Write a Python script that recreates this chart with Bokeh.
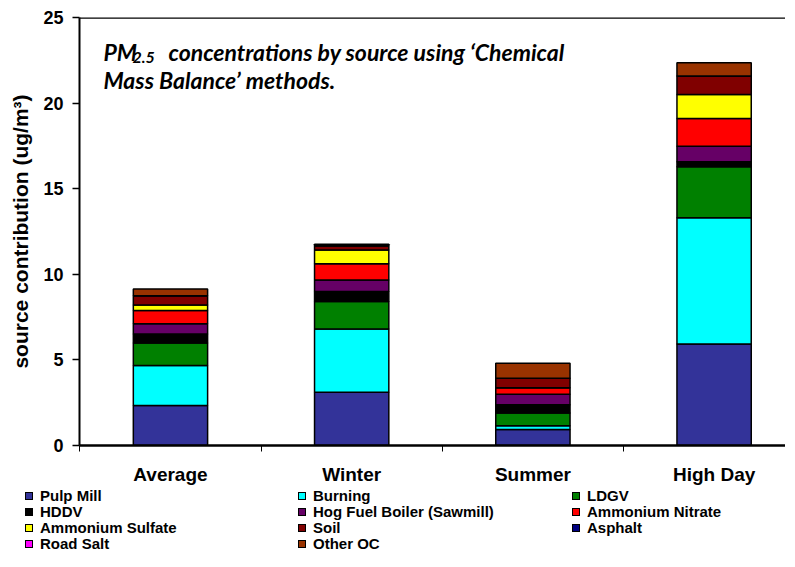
from bokeh.plotting import figure
from bokeh.layouts import column
from bokeh.models import ColumnDataSource, Range1d, FixedTicker, Label, Span, Div
from bokeh.embed import file_html
from bokeh.resources import INLINE

# ---- data ----
categories = ["Average", "Winter", "Summer", "High Day"]
pulp_mill = [2.33, 3.11, 0.93, 5.93]
burning = [2.35, 3.69, 0.23, 7.37]
ldgv = [1.30, 1.61, 0.74, 2.98]
hddv = [0.53, 0.58, 0.48, 0.29]
hog_fuel = [0.60, 0.68, 0.62, 0.91]
amm_nitrate = [0.77, 0.95, 0.38, 1.62]
amm_sulfate = [0.33, 0.80, 0.00, 1.40]
soil = [0.54, 0.25, 0.55, 1.08]
asphalt = [0.0, 0.0, 0.0, 0.0]
road_salt = [0.0, 0.0, 0.0, 0.0]
other_oc = [0.39, 0.08, 0.87, 0.78]

series_names = ["Pulp Mill", "Burning", "LDGV", "HDDV", "Hog Fuel Boiler (Sawmill)",
                "Ammonium Nitrate", "Ammonium Sulfate", "Soil", "Asphalt", "Road Salt", "Other OC"]
series_values = [pulp_mill, burning, ldgv, hddv, hog_fuel, amm_nitrate, amm_sulfate,
                 soil, asphalt, road_salt, other_oc]
series_colors = ["#333399", "#00FFFF", "#008000", "#000000", "#660066", "#FF0000",
                 "#FFFF00", "#800000", "#000080", "#FF00FF", "#993300"]
y_ticks = [0, 5, 10, 15, 20, 25]
y_label = "source contribution (ug/m\u00b3)"

# ---- source ----
keys = ["s%d" % i for i in range(len(series_names))]
data = {"x": list(range(len(categories)))}
for k, vals in zip(keys, series_values):
    data[k] = vals
source = ColumnDataSource(data)

p = figure(width=785, height=487, x_range=Range1d(-0.502, 3.394), y_range=Range1d(0, 25),
           output_backend="svg", toolbar_location=None,
           min_border_left=79, min_border_right=0, min_border_top=17, min_border_bottom=40)
p.outline_line_color = None
p.xgrid.visible = False
p.ygrid.visible = False

renderers = p.vbar_stack(keys, x="x", width=0.41, source=source,
                         fill_color=series_colors, line_color="black", line_width=1.5)

# top border line
p.add_layout(Span(location=25, dimension="width", line_color="black", line_width=2.5))

# x axis
xa = p.xaxis[0]
xa.ticker = FixedTicker(ticks=list(range(len(categories))), minor_ticks=[-0.5, 0.5, 1.5, 2.5, 3.5])
xa.major_label_overrides = {i: c for i, c in enumerate(categories)}
xa.axis_line_width = 2.5
xa.axis_line_color = "black"
xa.major_tick_out = 0
xa.major_tick_in = 0
xa.minor_tick_out = 6
xa.minor_tick_in = 0
xa.minor_tick_line_color = "black"
xa.major_label_text_font = "Liberation Sans"
xa.major_label_text_font_style = "bold"
xa.major_label_text_font_size = "19px"
xa.major_label_text_color = "black"
xa.major_label_standoff = 12

# y axis
ya = p.yaxis[0]
ya.ticker = FixedTicker(ticks=y_ticks, minor_ticks=[])
ya.axis_line_width = 2
ya.axis_line_color = "black"
ya.major_tick_out = 7
ya.major_tick_in = 0
ya.major_tick_line_color = "black"
ya.major_tick_line_width = 1.5
ya.major_label_text_font = "Liberation Sans"
ya.major_label_text_font_style = "bold"
ya.major_label_text_font_size = "18px"
ya.major_label_text_color = "black"
ya.major_label_standoff = 9
ya.axis_label = y_label
ya.axis_label_text_font = "Liberation Sans"
ya.axis_label_text_font_style = "bold"
ya.axis_label_text_font_size = "21px"
ya.axis_label_text_color = "black"
ya.axis_label_standoff = 8

# title text inside the plot
title_font = "Lato"
def title_label(x, y, text, size):
    return Label(x=x, y=y, x_units="screen", y_units="screen", text=text,
                 text_font=title_font, text_font_style="bold italic", text_color="black",
                 text_font_size=size, text_baseline="alphabetic")

p.add_layout(title_label(24, 394, "PM", "23px"))
p.add_layout(title_label(53, 388, "2.5", "16px"))
p.add_layout(title_label(89, 394, "concentrations by source using \u2018Chemical", "23px"))
p.add_layout(title_label(24, 366, "Mass Balance\u2019 methods.", "23px"))

# ---- legend strip below the chart (3 columns, read across rows) ----
cells = []
for name, color in zip(series_names, series_colors):
    cells.append(
        '<div style="display:flex;align-items:center;height:16px;white-space:nowrap;">'
        '<span style="display:inline-block;width:8px;height:8px;border:1px solid #000;'
        'background:%s;margin-right:7px;flex:none;"></span>%s</div>' % (color, name)
    )
legend_html = (
    '<div style="display:grid;grid-template-columns:273px 274px 200px;'
    'grid-auto-rows:16px;padding:1px 0 0 25px;margin:0;'
    'font-family:\'Liberation Sans\',Arial,sans-serif;font-weight:bold;font-size:15px;'
    'line-height:16px;color:#000;">' + "".join(cells) + '</div>'
)
legend_div = Div(text=legend_html, width=785, height=64, margin=0)

open("out.html", "w").write(file_html(column(p, legend_div), INLINE))
